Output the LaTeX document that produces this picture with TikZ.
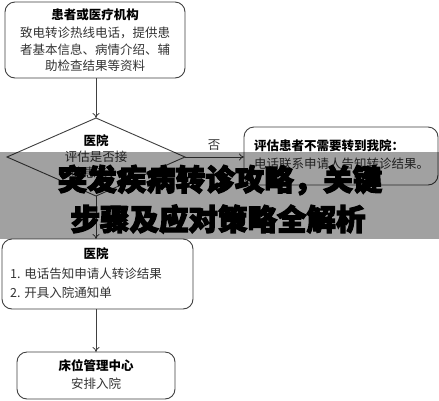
\documentclass[tikz,border=0pt]{standalone}
\usepackage{fontspec}
\setmainfont{Noto Sans CJK SC}
\newfontfamily\cjkh[FakeBold=4]{Noto Sans CJK SC}
\usetikzlibrary{shapes.geometric,arrows.meta}
\definecolor{linec}{HTML}{404040}
\definecolor{txtc}{HTML}{333333}
\tikzset{
  box/.style={draw=linec, line width=0.9pt, rounded corners=10pt},
  conn/.style={draw=linec, line width=0.8pt, -{To[length=5pt,width=7pt]}},
  txt/.style={text=txtc, font=\fontsize{12.5}{14}\selectfont, inner sep=0pt},
  btxt/.style={text=black, font=\fontsize{12.5}{14}\selectfont\bfseries, inner sep=0pt},
  ttl/.style={text=black, font=\cjkh\fontsize{29.5}{32}\selectfont\bfseries, inner sep=0pt},
}
\begin{document}
\begin{tikzpicture}[x=1pt,y=-1pt]
\useasboundingbox (0,0) rectangle (439,400);
\fill[white] (0,0) rectangle (439,400);
% box 1
\draw[box] (5,2) rectangle (185,78);
\node[btxt] (t1) at (95,15) {患者或医疗机构};
\node[txt] (t1a) at (95,33) {致电转诊热线电话，提供患};
\node[txt] (t1b) at (95,50) {者基本信息、病情介绍、辅};
\node[txt] (t1c) at (95,66) {助检查结果等资料};
\coordinate (b1s) at (96,78);
% diamond
\draw[draw=linec, line width=0.9pt] (96,118) -- (185,157) -- (96,196) -- (7,157) -- cycle;
\coordinate (dt) at (96,118);
\coordinate (dr) at (185,157);
\coordinate (db) at (96,196);
\node[btxt] (dtx) at (96,141) {医院};
\node[txt] (dtx2) at (96,157) {评估是否接};
\node[txt] (dtx3) at (96,173) {收患者？};
% right box
\draw[box] (244,127) rectangle (438,185);
\coordinate (rl) at (244,157);
\node[btxt, anchor=west] (r1) at (254,146) {评估患者不需要转到我院：};
\node[txt, anchor=west] (r2) at (254,164) {电话联系申请人告知转诊结果。};
\node[txt] (no) at (214,145) {否};
% box 3
\draw[box] (2,239) rectangle (193,309);
\coordinate (b3n) at (96,239);
\coordinate (b3s) at (96,309);
\node[btxt] (h3) at (96,254) {医院};
\node[txt, anchor=west] (h3a) at (10,274) {1. 电话告知申请人转诊结果};
\node[txt, anchor=west] (h3b) at (10,293) {2. 开具入院通知单};
% box 4
\draw[box] (17,352) rectangle (175,399);
\coordinate (b4n) at (96,352);
\node[btxt] (h4) at (96,366) {床位管理中心};
\node[txt] (h4a) at (96,384) {安排入院};
% connectors
\draw[conn] (b1s) -- (dt);
\draw[conn] (dr) -- (rl);
\draw[conn] (db) -- (b3n);
\draw[conn] (b3s) -- (b4n);
% overlay band
\fill[black, opacity=0.37] (0,152) rectangle (439,239);
\node[ttl] (title1) at (220,180) {突发疾病转诊攻略，关键};
\node[ttl] (title2) at (218,219) {步骤及应对策略全解析};
\end{tikzpicture}
\end{document}
